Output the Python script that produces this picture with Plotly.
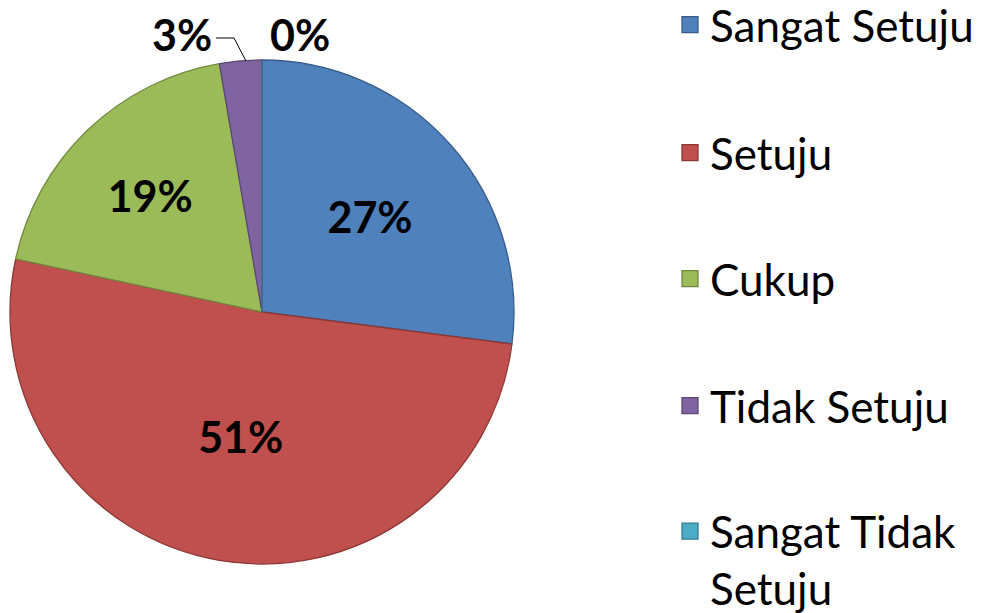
import plotly.graph_objects as go

categories = ["Sangat Setuju", "Setuju", "Cukup", "Tidak Setuju", "Sangat Tidak Setuju"]
legend_labels = ["Sangat Setuju", "Setuju", "Cukup", "Tidak Setuju", "Sangat Tidak<br>Setuju"]
counts = [10, 19, 7, 1, 0]
fill_colors = ["#4F81BD", "#C0504D", "#9BBB59", "#8064A2", "#4BACC6"]
line_colors = ["#385D8A", "#8C3836", "#71893F", "#5C4776", "#357D91"]

W, H = 987, 613
FONT = "Lato"
total = sum(counts)
pct_text = [f"{round(100 * c / total)}%" for c in counts]
small = [c / total < 0.05 for c in counts]

fig = go.Figure()
fig.add_trace(go.Pie(
    labels=categories,
    values=counts,
    sort=False,
    direction="clockwise",
    rotation=0,
    marker=dict(colors=fill_colors, line=dict(color=line_colors, width=1.3)),
    text=pct_text,
    texttemplate="%{text}",
    textposition=["none" if s else "inside" for s in small],
    insidetextorientation="horizontal",
    textfont=dict(family=FONT, size=43, color="black", weight="bold"),
    showlegend=False,
    domain=dict(x=[10 / W, 514 / W], y=[49 / H, 553 / H]),
    hoverinfo="label+value+percent",
))

# one legend per entry so the generous spacing of the original fits the page
legend_centers_px = [25, 153, 279, 406, 560]
layout_legends = {}
for i, name in enumerate(legend_labels):
    key = "legend" if i == 0 else f"legend{i + 1}"
    fig.add_trace(go.Scatter(
        x=[None], y=[None], mode="markers", name=name, legend=key,
        marker=dict(symbol="square", size=16, color=fill_colors[i],
                    line=dict(color=line_colors[i], width=1.3)),
    ))
    layout_legends[key] = dict(
        x=670 / W, xanchor="left",
        y=1 - legend_centers_px[i] / H, yanchor="middle",
        font=dict(family=FONT, size=44, color="black"),
        itemwidth=30, valign="top",
        bgcolor="rgba(0,0,0,0)",
    )

# labels of the thin slices sit above the pie (as in the original)
small_label_px = {3: (182, 34), 4: (300, 34)}
for i, (px, py) in small_label_px.items():
    fig.add_annotation(
        x=px / W, y=1 - py / H, xref="paper", yref="paper",
        text=f"<b>{pct_text[i]}</b>", showarrow=False,
        font=dict(family=FONT, size=43, color="black"),
        xanchor="center", yanchor="middle",
    )
fig.add_shape(
    type="path", xref="paper", yref="paper",
    path=f"M {216 / W} {1 - 38 / H} L {234 / W} {1 - 38 / H} L {246 / W} {1 - 61 / H}",
    line=dict(color="black", width=1),
)

fig.update_layout(
    width=W, height=H,
    margin=dict(l=0, r=0, t=0, b=0, autoexpand=False),
    paper_bgcolor="white", plot_bgcolor="white",
    xaxis=dict(visible=False), yaxis=dict(visible=False),
    font=dict(family=FONT, color="black"),
    **layout_legends,
)

fig.write_html("out.html", config={"displayModeBar": False},
               post_script="document.body.style.margin='0';")
